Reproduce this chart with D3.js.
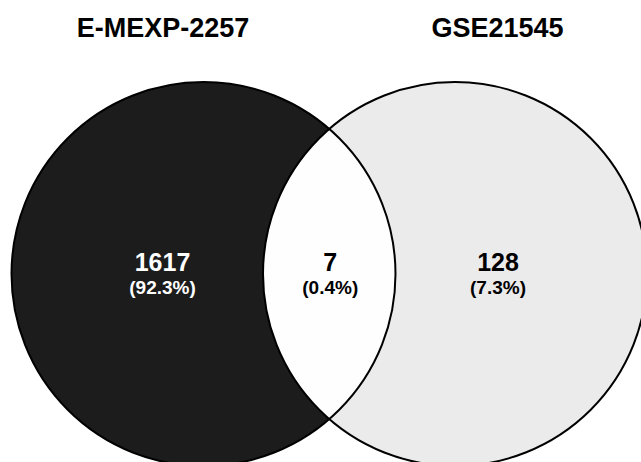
<!DOCTYPE html>
<html>
<head>
<meta charset="utf-8">
<script src="https://cdn.jsdelivr.net/npm/d3@7"></script>
<style>
html,body{margin:0;padding:0;background:#fff;}
svg{display:block;}
</style>
</head>
<body>
<svg id="chart" width="641" height="462"></svg>
<script>
const setNames = ["E-MEXP-2257", "GSE21545"];
const regionLabels = ["E-MEXP-2257 only", "Both", "GSE21545 only"];
const regionCounts = [1617, 7, 128];
const regionPercents = ["(92.3%)", "(0.4%)", "(7.3%)"];
const setFills = ["#1c1c1c", "#ebebeb"];
const regionTextColors = ["#ffffff", "#000000", "#000000"];

const W = 641, H = 462;
const svg = d3.select("#chart");
const font = "'Liberation Sans', Arial, Helvetica, sans-serif";

// layout scales
const xCircle = d3.scalePoint().domain(setNames).range([203.5, 455]);
const xTitle = d3.scalePoint().domain(setNames).range([163, 497.5]);
const xRegion = d3.scalePoint().domain(regionLabels).range([162.5, 498]);
const r = 192, cy = 274;

const defs = svg.append("defs");
defs.append("clipPath").attr("id", "clipA")
  .append("circle").attr("cx", xCircle(setNames[0])).attr("cy", cy).attr("r", r);

// filled circles
svg.selectAll("circle.set").data(setNames).enter().append("circle")
  .attr("class", "set")
  .attr("cx", d => xCircle(d)).attr("cy", cy).attr("r", r)
  .attr("fill", (d, i) => setFills[i]);

// intersection
svg.append("circle")
  .attr("cx", xCircle(setNames[1])).attr("cy", cy).attr("r", r)
  .attr("clip-path", "url(#clipA)")
  .attr("fill", "#fefefe");

// outlines
svg.selectAll("circle.outline").data(setNames).enter().append("circle")
  .attr("class", "outline")
  .attr("cx", d => xCircle(d)).attr("cy", cy).attr("r", r)
  .attr("fill", "none").attr("stroke", "#000").attr("stroke-width", 2);

// titles
svg.selectAll("text.title").data(setNames).enter().append("text")
  .attr("class", "title")
  .attr("x", d => xTitle(d)).attr("y", 37)
  .attr("text-anchor", "middle")
  .attr("font-family", font).attr("font-weight", "bold").attr("font-size", 27)
  .attr("fill", "#000")
  .text(d => d);

// counts
svg.selectAll("text.count").data(regionLabels).enter().append("text")
  .attr("class", "count")
  .attr("x", d => xRegion(d)).attr("y", 271)
  .attr("text-anchor", "middle")
  .attr("font-family", font).attr("font-weight", "bold").attr("font-size", 25)
  .attr("fill", (d, i) => regionTextColors[i])
  .text((d, i) => regionCounts[i]);

svg.selectAll("text.pct").data(regionLabels).enter().append("text")
  .attr("class", "pct")
  .attr("x", d => xRegion(d)).attr("y", 294)
  .attr("text-anchor", "middle")
  .attr("font-family", font).attr("font-weight", "bold").attr("font-size", 19)
  .attr("fill", (d, i) => regionTextColors[i])
  .text((d, i) => regionPercents[i]);
</script>
</body>
</html>
